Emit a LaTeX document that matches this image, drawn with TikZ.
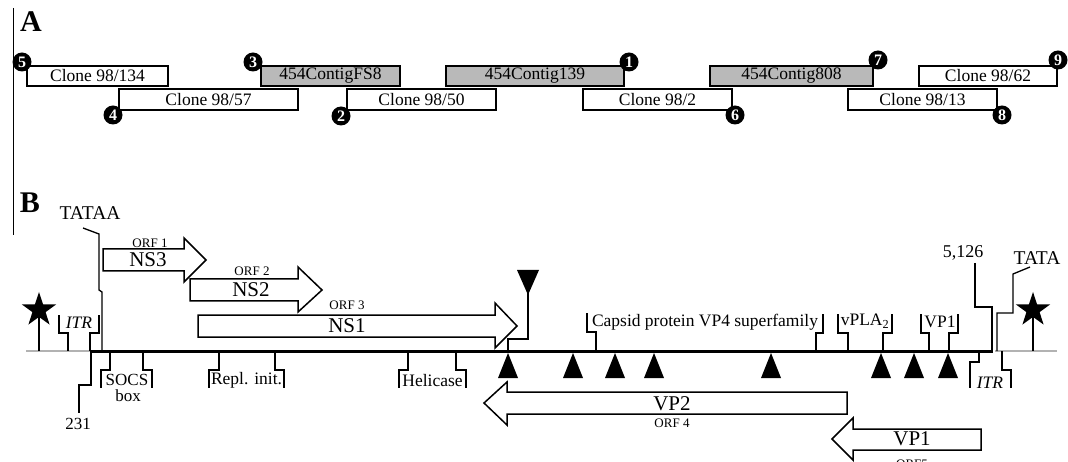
\documentclass[tikz,border=0pt]{standalone}
\usepackage{fontspec}
\setmainfont{Liberation Serif}
\usetikzlibrary{shapes.geometric}
\newcommand{\myfs}[1]{\fontsize{#1}{#1}\selectfont}
\tikzset{
  clone/.style={draw, line width=1.5pt, fill=white, inner sep=0pt, font=\myfs{17.5}},
  contig/.style={clone, fill=gray!55},
  num/.style={circle, fill=black, text=white, font=\bfseries\myfs{16}, inner sep=0pt, minimum size=19pt},
  orfarrow/.style={draw, line width=1.5pt, fill=white, line join=miter},
  brk/.style={line width=1.3pt},
  lbl/.style={font=\myfs{17.5}, inner sep=0pt},
  big/.style={font=\myfs{21}, inner sep=0pt},
  small/.style={font=\myfs{13}, inner sep=0pt},
  tri/.style={fill=black},
  starshape/.style={star, star points=5, star point ratio=2.6, fill=black, inner sep=0pt, minimum size=36pt},
  panel/.style={font=\bfseries\myfs{30}, inner sep=0pt}
}
\begin{document}
\begin{tikzpicture}[x=1pt, y=-1pt]
\useasboundingbox (0,0) rectangle (1068,462);
% left rule
\draw[line width=1pt] (13,8) -- (13,235);
\node[panel] (pA) at (31,22) {A};
\node[panel] (pB) at (30,203) {B};

% ---- Panel A ----
\node[clone, minimum width=141pt, minimum height=20pt] (c134) at (97.5,76) {Clone 98/134};
\node[clone, minimum width=179pt, minimum height=21pt] (c57) at (208.5,99.5) {Clone 98/57};
\node[contig, minimum width=139pt, minimum height=20pt] (fs8) at (330.5,76) {454ContigFS8};
\node[clone, minimum width=149pt, minimum height=21pt] (c50) at (421.5,99.5) {Clone 98/50};
\node[contig, minimum width=178pt, minimum height=20pt] (c139) at (535,76) {454Contig139};
\node[clone, minimum width=149pt, minimum height=21pt] (c2) at (657.5,99.5) {Clone 98/2};
\node[contig, minimum width=163pt, minimum height=20pt] (c808) at (791.5,76) {454Contig808};
\node[clone, minimum width=149pt, minimum height=21pt] (c13) at (922.5,99.5) {Clone 98/13};
\node[clone, minimum width=138pt, minimum height=20pt] (c62) at (988,76) {Clone 98/62};

\node[num] (n5) at (22,62) {5};
\node[num] (n4) at (113,115) {4};
\node[num] (n3) at (253,62) {3};
\node[num] (n2) at (341,116) {2};
\node[num] (n1) at (629,62) {1};
\node[num] (n6) at (735,115) {6};
\node[num] (n7) at (878,60) {7};
\node[num] (n8) at (1002,115) {8};
\node[num] (n9) at (1058,60) {9};

% ---- Panel B ----
% genome line
\draw[line width=2pt, gray!60] (26,351) -- (91,351);
\draw[line width=2pt, gray!60] (995,351) -- (1057,351);
\draw[line width=3pt] (91,351) -- (993,351);

% stars
\draw[line width=1.6pt] (39,310) -- (39,351);
\node[starshape] (sL) at (39,310) {};
\draw[line width=1.6pt] (1033,310) -- (1033,351);
\node[starshape] (sR) at (1033,310) {};

% left ITR
\draw[brk] (59,315) -- (59,333) -- (68,333) -- (68,351);
\draw[brk] (99,315) -- (99,333) -- (90,333) -- (90,351);
\node[lbl, font=\itshape\myfs{17.5}] (itrL) at (79,323) {ITR};

% TATAA
\node[lbl, font=\myfs{19.5}] (tataa) at (90,213) {TATAA};
\draw[brk] (83,228) -- (99,234) -- (99,290) -- (102,292) -- (102,351);

% 231
\draw[brk] (91,351) -- (91,385) -- (79,385) -- (79,413);
\node[lbl, font=\myfs{17}] (p231) at (78,424) {231};

% SOCS box
\draw[brk] (110,351) -- (110,370) -- (101,370) -- (101,388);
\draw[brk] (143,351) -- (143,370) -- (152,370) -- (152,388);
\node[lbl, font=\myfs{17}] (socs) at (127,380) {SOCS};
\node[lbl, font=\myfs{17}] (box) at (128,396) {box};

% Repl. init.
\draw[brk] (219,351) -- (219,370) -- (209,370) -- (209,388);
\draw[brk] (275,351) -- (275,370) -- (284,370) -- (284,388);
\node[lbl] (repl) at (246.5,380) {Repl. init.};

% Helicase
\draw[brk] (408,351) -- (408,370) -- (399,370) -- (399,388);
\draw[brk] (456,351) -- (456,370) -- (466,370) -- (466,388);
\node[lbl] (heli) at (432.5,381) {Helicase};

% ORF arrows
\draw[orfarrow] (103,249) -- (184,249) -- (184,238) -- (206,260) -- (184,282) -- (184,271) -- (103,271) -- cycle;
\node[small] (orf1) at (150,243) {ORF 1};
\node[big] (ns3) at (148,260) {NS3};

\draw[orfarrow] (190,279) -- (298,279) -- (298,267) -- (322,290) -- (298,312) -- (298,301) -- (190,301) -- cycle;
\node[small] (orf2) at (252,271) {ORF 2};
\node[big] (ns2) at (251,290) {NS2};

\draw[orfarrow] (198,315) -- (495,315) -- (495,303) -- (517,326) -- (495,348) -- (495,337) -- (198,337) -- cycle;
\node[small] (orf3) at (347,305) {ORF 3};
\node[big] (ns1) at (347,326) {NS1};

\draw[orfarrow] (847,392) -- (507,392) -- (507,382) -- (484,403) -- (507,425) -- (507,414) -- (847,414) -- cycle;
\node[big] (vp2) at (672,404) {VP2};
\node[small] (orf4) at (672,423) {ORF 4};

\draw[orfarrow] (981,429) -- (853,429) -- (853,418) -- (832,439) -- (853,460) -- (853,450) -- (981,450) -- cycle;
\node[big] (vp1) at (912,439) {VP1};
\node[small] (orf5) at (912,464) {ORF5};

% down triangle with stem
\draw[brk] (528,292) -- (528,339) -- (508,339) -- (508,351);
\fill[tri] (517,270) -- (539,270) -- (528,295) -- cycle;

% up triangles
\foreach \tx in {508,573,615,654,771,881,914,948}
  \fill[tri] (\tx-10,378) -- (\tx,353) -- (\tx+10,378) -- cycle;

% Capsid protein VP4 superfamily
\draw[brk] (587,313) -- (587,332) -- (596,332) -- (596,351);
\draw[brk] (823,314) -- (823,333) -- (816,333) -- (816,351);
\node[lbl] (capsid) at (705,322) {Capsid protein VP4 superfamily};

% vPLA2
\draw[brk] (838,314) -- (838,333) -- (848,333) -- (848,351);
\draw[brk] (892,314) -- (892,333) -- (883,333) -- (883,351);
\node[lbl] (vpla) at (865,321) {vPLA\textsubscript{2}};

% VP1 region
\draw[brk] (921,314) -- (921,333) -- (929,333) -- (929,351);
\draw[brk] (958,314) -- (958,333) -- (949,333) -- (949,351);
\node[lbl] (vp1r) at (940,322) {VP1};

% 5,126
\node[lbl, font=\myfs{18}] (p5126) at (963,253) {5,126};
\draw[brk] (975,263) -- (975,307) -- (992,307) -- (992,351);

% TATA
\node[lbl, font=\myfs{19.5}] (tata) at (1037,258) {TATA};
\draw[brk] (1030,267) -- (1013,274) -- (1013,313) -- (997,313) -- (997,351);

% right ITR
\draw[brk] (979,351) -- (979,362) -- (970,362) -- (970,388);
\draw[brk] (1002,351) -- (1002,370) -- (1011,370) -- (1011,388);
\node[lbl, font=\itshape\myfs{17.5}] (itrR) at (990,383) {ITR};
\end{tikzpicture}
\end{document}
